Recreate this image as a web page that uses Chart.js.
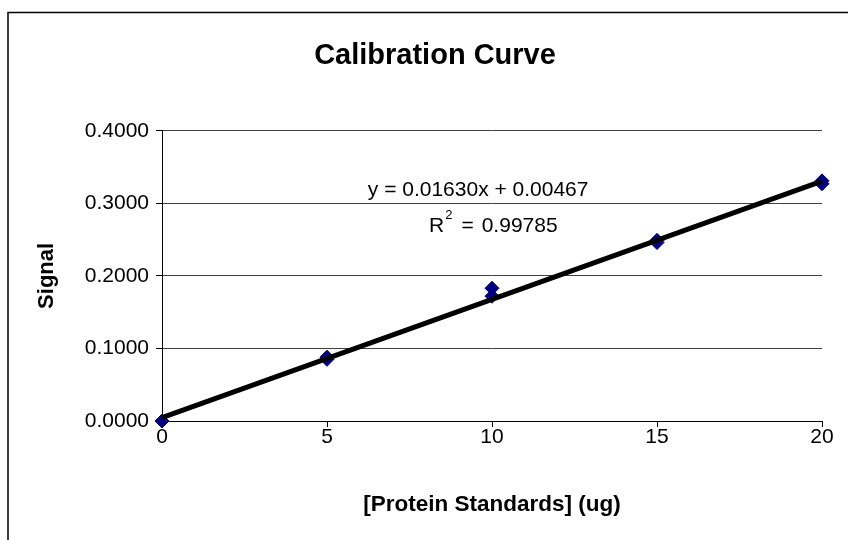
<!DOCTYPE html>
<html>
<head>
<meta charset="utf-8">
<script src="https://cdn.jsdelivr.net/npm/chart.js@4/dist/chart.umd.min.js"></script>
<style>
  html, body { margin: 0; padding: 0; background: #ffffff; }
  #wrap { width: 848px; height: 540px; }
</style>
</head>
<body>
<div id="wrap"><canvas id="c" width="848" height="540"></canvas></div>
<script>
// ---- data ----
const xValues = [0, 0, 5, 5, 10, 10, 15, 15, 20, 20];
const signalValues = [0.000, 0.000, 0.088, 0.085, 0.183, 0.172, 0.249, 0.246, 0.331, 0.327];
const xTicks = [0, 5, 10, 15, 20];
const yTicks = [0.0, 0.1, 0.2, 0.3, 0.4];
const slope = 0.01630;
const intercept = 0.00467;
const rSquared = 0.99785;
const titleText = 'Calibration Curve';
const xTitle = '[Protein Standards] (ug)';
const yTitle = 'Signal';

const FONT = '"Liberation Sans", Arial, sans-serif';

const points = xValues.map((x, i) => ({ x: x, y: signalValues[i] }));
const xMin = xTicks[0], xMax = xTicks[xTicks.length - 1];
const trend = [
  { x: xMin, y: slope * xMin + intercept },
  { x: xMax, y: slope * xMax + intercept }
];

const framePlugin = {
  id: 'frame',
  beforeDraw(chart) {
    const ctx = chart.ctx;
    ctx.save();
    ctx.fillStyle = '#ffffff';
    ctx.fillRect(0, 0, chart.width, chart.height);
    ctx.strokeStyle = '#000000';
    ctx.lineWidth = 1.5;
    ctx.strokeRect(8, 12.5, chart.width + 20, chart.height + 20);
    ctx.restore();
  }
};

const equationPlugin = {
  id: 'equation',
  afterDatasetsDraw(chart) {
    const ctx = chart.ctx;
    const xs = chart.scales.x, ys = chart.scales.y;
    const cx1 = xs.getPixelForValue(9.58);
    const cx2 = xs.getPixelForValue(10.04);
    const y1 = ys.getPixelForValue(0.3186);
    const y2 = ys.getPixelForValue(0.269);
    ctx.save();
    ctx.fillStyle = '#000000';
    ctx.textBaseline = 'middle';
    ctx.font = '21px ' + FONT;
    const eq = 'y = ' + slope.toFixed(5) + 'x + ' + intercept.toFixed(5);
    ctx.textAlign = 'center';
    ctx.fillText(eq, cx1, y1);
    // R^2 line with superscript
    const num = rSquared.toFixed(5);
    ctx.font = '21px ' + FONT;
    const wR = ctx.measureText('R').width;
    const wEq = ctx.measureText('=').width;
    const wNum = ctx.measureText(num).width;
    ctx.font = '13px ' + FONT;
    const wSup = ctx.measureText('2').width;
    const gapSup = 1, gapEq1 = 9, gapEq2 = 8;
    const total = wR + gapSup + wSup + gapEq1 + wEq + gapEq2 + wNum;
    let x = cx2 - total / 2;
    ctx.textAlign = 'left';
    ctx.font = '21px ' + FONT;
    ctx.fillText('R', x, y2);
    x += wR + gapSup;
    ctx.font = '13px ' + FONT;
    ctx.fillText('2', x, y2 - 10);
    x += wSup + gapEq1;
    ctx.font = '21px ' + FONT;
    ctx.fillText('=', x, y2);
    x += wEq + gapEq2;
    ctx.fillText(num, x, y2);
    ctx.restore();
  }
};

new Chart(document.getElementById('c'), {
  type: 'scatter',
  data: {
    datasets: [
      {
        label: 'Trendline',
        type: 'line',
        data: trend,
        borderColor: '#000000',
        borderWidth: 5,
        pointRadius: 0,
        fill: false,
        tension: 0,
        clip: false
      },
      {
        label: 'Signal',
        data: points,
        pointStyle: 'rectRot',
        pointRadius: 7,
        pointHoverRadius: 7,
        backgroundColor: '#000080',
        borderColor: '#000080',
        borderWidth: 1,
        clip: false
      }
    ]
  },
  plugins: [framePlugin, equationPlugin],
  options: {
    responsive: false,
    animation: false,
    devicePixelRatio: 1,
    layout: { padding: { left: 48, right: 26, top: 0, bottom: 0 } },
    plugins: {
      legend: { display: false },
      tooltip: { enabled: false },
      title: {
        display: true,
        text: titleText,
        color: '#000000',
        font: { family: FONT, size: 29, weight: 'bold' },
        padding: { top: 39, bottom: 57 }
      }
    },
    scales: {
      x: {
        type: 'linear',
        min: xMin,
        max: xMax,
        afterBuildTicks(scale) { scale.ticks = xTicks.map(v => ({ value: v })); },
        afterFit(scale) { scale.height = 119; },
        ticks: {
          color: '#000000',
          font: { family: FONT, size: 21 },
          padding: -2,
          callback: v => String(v)
        },
        grid: {
          display: true,
          drawOnChartArea: false,
          drawTicks: true,
          tickLength: 6,
          color: '#000000',
          tickColor: '#000000'
        },
        border: { display: true, color: '#000000', width: 1 },
        title: {
          display: true,
          text: xTitle,
          color: '#000000',
          font: { family: FONT, size: 22.5, weight: 'bold' },
          padding: { top: 0, bottom: 22 }
        }
      },
      y: {
        type: 'linear',
        min: yTicks[0],
        max: yTicks[yTicks.length - 1],
        afterBuildTicks(scale) { scale.ticks = yTicks.map(v => ({ value: v })); },
        afterFit(scale) { scale.width = 114; },
        ticks: {
          color: '#000000',
          font: { family: FONT, size: 21 },
          padding: 7,
          callback: v => Number(v).toFixed(4)
        },
        grid: {
          display: true,
          drawOnChartArea: true,
          drawTicks: true,
          tickLength: 6,
          color: '#404040',
          tickColor: '#000000'
        },
        border: { display: true, color: '#000000', width: 1 },
        title: {
          display: true,
          text: yTitle,
          color: '#000000',
          font: { family: FONT, size: 22, weight: 'bold' },
          padding: { top: -14, bottom: 0 }
        }
      }
    }
  }
});
</script>
</body>
</html>
